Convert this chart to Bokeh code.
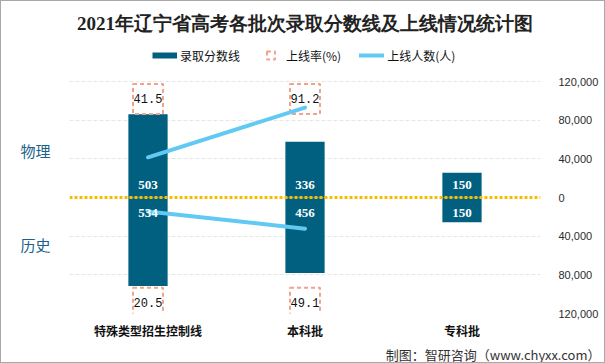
from bokeh.plotting import figure
from bokeh.models import (Range1d, LinearAxis, FixedTicker, CustomJSTickFormatter,
                          ColumnDataSource, LabelSet, Legend, LegendItem, Title, Span,
                          FactorRange)
from bokeh.core.properties import value
from bokeh.embed import file_html
from bokeh.resources import INLINE

# ---------------- data ----------------
title_text = "2021年辽宁省高考各批次录取分数线及上线情况统计图"
categories = ["特殊类型招生控制线", "本科批", "专科批"]
physics_score = [503, 336, 150]
history_score = [534, 456, 150]
people_categories = ["特殊类型招生控制线", "本科批"]
physics_people = [41600, 93000]
history_people = [14400, 32300]
physics_rate = [41.5, 91.2]
history_rate = [20.5, 49.1]
people_ticks = [-120000, -80000, -40000, 0, 40000, 80000, 120000]
subject_labels = ["物理", "历史"]
legend_labels = ["录取分数线", "上线率(%)", "上线人数(人)"]
source_note = "制图：智研咨询（www.chyxx.com）"

# ---------------- style ----------------
TEAL = "#01607f"
BLUE = "#62c9f2"
SALMON = "#f0a48c"
GOLD = "#f6bd00"
SCORE_MAX = 700
SUBJECT_TICK = 285
RATE_ROW_TOP = 102000
RATE_ROW_BOTTOM = -109000
# plot area layout (px): axis part 232px tall, plus headroom on top for legend
AXIS_PX = 232
HEAD_PX = 48
TOP_PX = 80 - HEAD_PX
head_frac = HEAD_PX / AXIS_PX
PEOPLE_MAX = people_ticks[-1]

W, H = 605, 363
p = figure(width=W, height=H,
           x_range=FactorRange(factors=categories, range_padding=0),
           y_range=Range1d(-PEOPLE_MAX, PEOPLE_MAX + 2 * PEOPLE_MAX * head_frac),
           y_axis_location="right",
           output_backend="svg", toolbar_location=None,
           min_border_left=68, min_border_right=66,
           min_border_top=TOP_PX, min_border_bottom=H - TOP_PX - HEAD_PX - AXIS_PX)
p.extra_y_ranges = {"score": Range1d(-SCORE_MAX, SCORE_MAX + 2 * SCORE_MAX * head_frac)}
p.outline_line_color = None
p.background_fill_color = "white"
p.border_fill_color = "white"
p.styles = {"border": "1px solid #a8a8a8", "box-sizing": "border-box"}

# title
p.title.text = title_text
p.title.align = "center"
p.title.text_font = "Liberation Serif"
p.title.text_font_size = "19px"
p.title.text_font_style = "bold"
p.title.text_color = "#222222"
p.title.standoff = 0

# grid
p.xgrid.visible = False
p.ygrid.ticker = FixedTicker(ticks=[t for t in people_ticks if t != 0])
p.ygrid.grid_line_color = "#e6e6e6"
p.ygrid.grid_line_dash = "4 2"

# right axis (people)
ra = p.yaxis[0]
ra.ticker = FixedTicker(ticks=people_ticks)
ra.formatter = CustomJSTickFormatter(code="return Math.abs(tick).toLocaleString('en-US');")
ra.axis_line_color = None
ra.major_tick_line_color = None
ra.minor_tick_line_color = None
ra.major_label_text_font = "Liberation Sans"
ra.major_label_text_font_size = "11px"
ra.major_label_text_color = "#2b2b2b"
ra.major_label_standoff = 12

# left axis (subjects)
la = LinearAxis(y_range_name="score",
                ticker=FixedTicker(ticks=[SUBJECT_TICK, -SUBJECT_TICK]),
                major_label_overrides={SUBJECT_TICK: subject_labels[0],
                                       -SUBJECT_TICK: subject_labels[1]})
la.axis_line_color = None
la.major_tick_line_color = None
la.minor_tick_line_color = None
la.major_label_text_font = "Noto Sans CJK SC"
la.major_label_text_font_size = "15px"
la.major_label_text_color = "#1b5f8a"
la.major_label_standoff = 13
p.add_layout(la, "left")

# x axis
xa = p.xaxis[0]
xa.axis_line_color = None
xa.major_tick_line_color = None
xa.minor_tick_line_color = None
xa.major_label_text_font = "Noto Sans CJK SC"
xa.major_label_text_font_size = "12px"
xa.major_label_text_font_style = "bold"
xa.major_label_text_color = "#111111"
xa.major_label_standoff = 2

# bars
bar_src = ColumnDataSource(dict(
    cat=categories,
    phys=physics_score,
    hist_neg=[-s for s in history_score],
    phys_txt=[str(s) for s in physics_score],
    hist_txt=[str(s) for s in history_score],
    zero=[0] * len(categories),
))
p.vbar(x="cat", bottom=0, top="phys", width=0.25, source=bar_src,
       y_range_name="score", fill_color=TEAL, line_color=None)
p.vbar(x="cat", bottom="hist_neg", top=0, width=0.25, source=bar_src,
       y_range_name="score", fill_color=TEAL, line_color=None)

# zero line
p.add_layout(Span(location=0, dimension="width", line_color=GOLD,
                  line_width=3, line_dash="3 2"))

# bar labels
p.add_layout(LabelSet(x="cat", y="zero", text="phys_txt", source=bar_src,
                      y_offset=13, text_align="center", text_baseline="middle",
                      text_color="white", text_font=value("Liberation Serif"),
                      text_font_style="bold", text_font_size="13px"))
p.add_layout(LabelSet(x="cat", y="zero", text="hist_txt", source=bar_src,
                      y_offset=-15, text_align="center", text_baseline="middle",
                      text_color="white", text_font=value("Liberation Serif"),
                      text_font_style="bold", text_font_size="13px"))

# rate boxes
rate_src = ColumnDataSource(dict(
    cat=people_categories + people_categories,
    y=[RATE_ROW_TOP] * len(physics_rate) + [RATE_ROW_BOTTOM] * len(history_rate),
    txt=[f"{r:.1f}" for r in physics_rate] + [f"{r:.1f}" for r in history_rate],
))
rate_r = p.scatter(x="cat", y="y", source=rate_src, marker="square", size=30,
                   fill_color=None, line_color=SALMON, line_width=2, line_dash="4 3")
p.text(x="cat", y="y", text="txt", source=rate_src, text_align="center",
       text_baseline="middle", text_font=value("Liberation Mono"),
       text_font_size="12px", text_color="#111111")

# people lines
people_r = p.line(x=people_categories, y=physics_people, line_color=BLUE,
                  line_width=4, line_cap="round")
p.line(x=people_categories, y=[-v for v in history_people], line_color=BLUE,
       line_width=4, line_cap="round")

# legend (legend-only renderer for the bar swatch: NaN data draws nothing)
nan = float("nan")
bar_leg = p.line(x=people_categories, y=[nan, nan], line_color=TEAL, line_width=6)
legend = Legend(items=[LegendItem(label=legend_labels[0], renderers=[bar_leg]),
                       LegendItem(label=legend_labels[1], renderers=[rate_r]),
                       LegendItem(label=legend_labels[2], renderers=[people_r])],
                orientation="horizontal", location=(83, AXIS_PX + 80 - 54 - 10),
                glyph_width=25, glyph_height=20, label_standoff=3, spacing=18,
                label_text_font="Noto Sans CJK SC", label_text_font_size="12px",
                label_text_color="#111111",
                border_line_color=None, background_fill_alpha=0,
                margin=0, padding=0)
p.add_layout(legend, "center")

# footer
p.add_layout(Title(text=source_note, align="right", text_font="Noto Sans CJK SC",
                   text_font_size="13px", text_font_style="normal",
                   text_color="#333333", standoff=2, offset=-60), "below")

open("out.html", "w").write(file_html(p, INLINE))
